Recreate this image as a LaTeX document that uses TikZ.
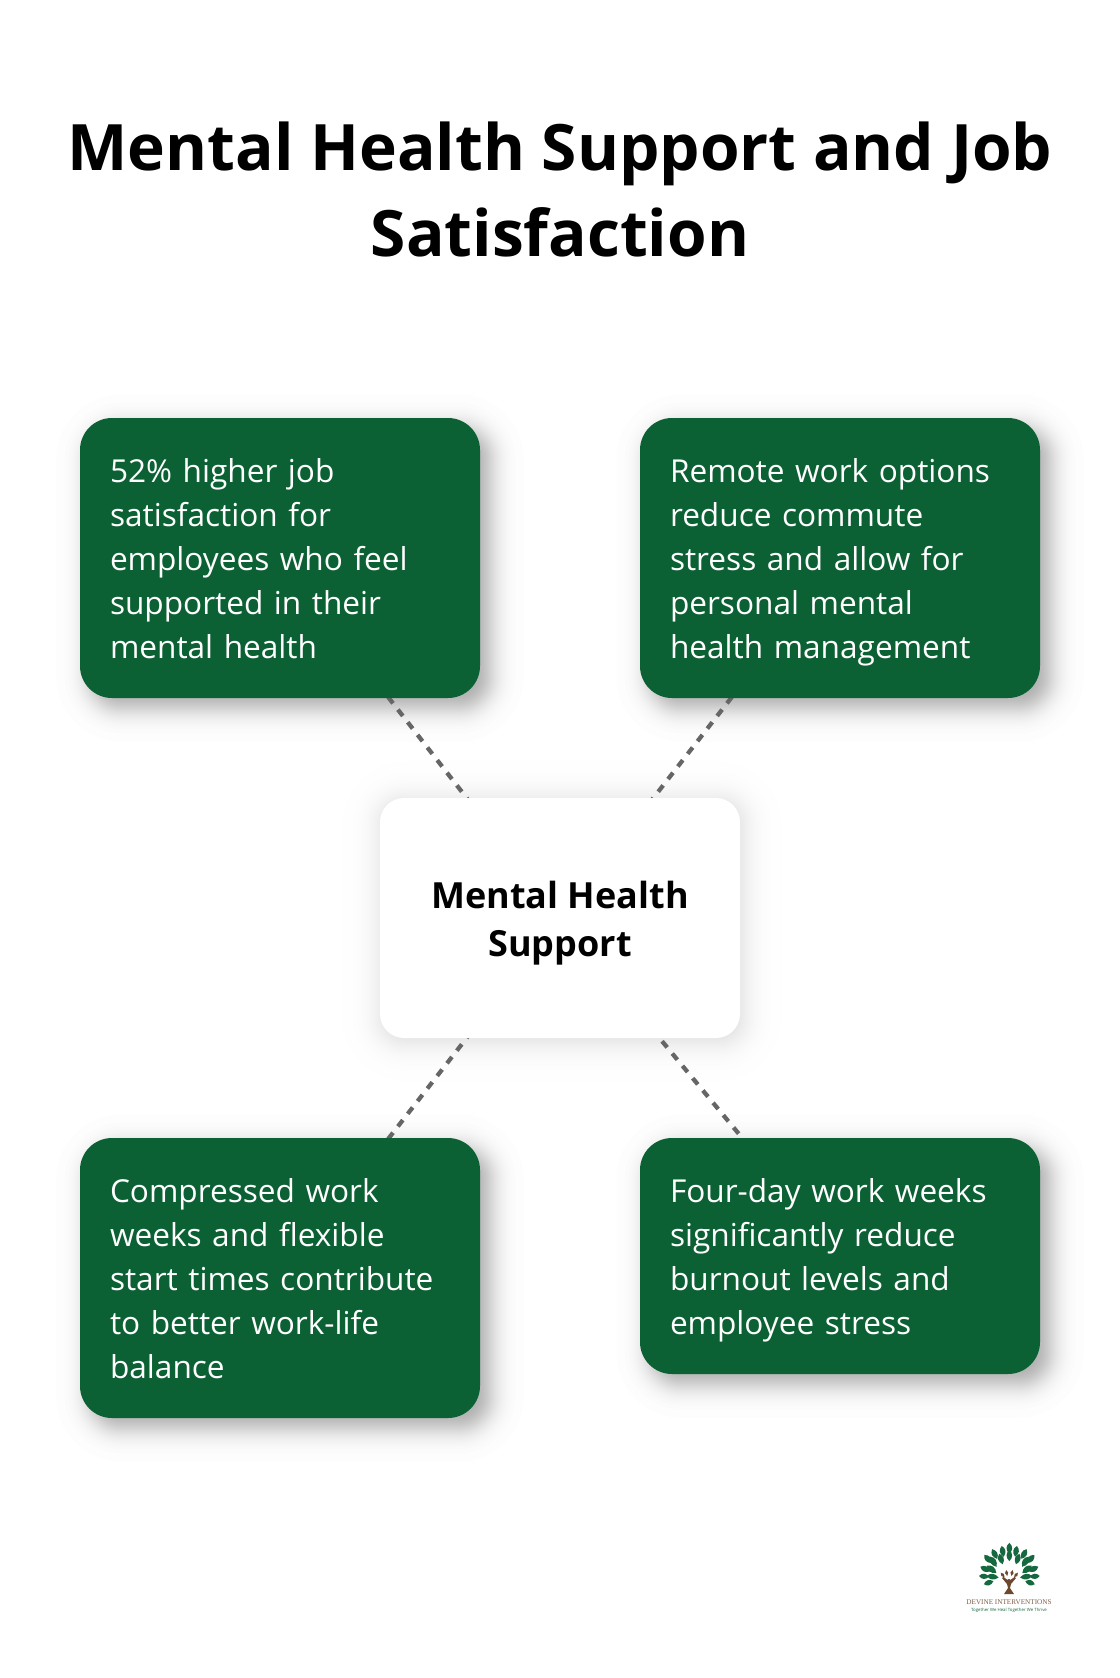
\documentclass[tikz,border=0pt]{standalone}
\usepackage{fontspec}
\setmainfont{Open Sans}
\usetikzlibrary{calc}
\definecolor{boxgreen}{RGB}{12,97,52}
\definecolor{dashgray}{RGB}{102,102,102}
\definecolor{leafgreen}{RGB}{22,104,62}
\definecolor{trunkbrown}{RGB}{110,72,45}
\definecolor{logotext}{RGB}{125,95,75}
\pgfdeclarelayer{shad}
\pgfdeclarelayer{conn}
\pgfsetlayers{shad,conn,main}
\tikzset{
  x=0.75pt, y=-0.75pt,
  infobox/.style={rounded corners=24pt, fill=boxgreen, text=white, minimum width=300pt, inner xsep=22.5pt, inner ysep=0pt, text width=255pt, align=left, font=\fontsize{23.7}{33}\selectfont,
    execute at begin node={\rule{0pt}{25.6pt}}, execute at end node={\rule[-7.4pt]{0pt}{7.4pt}}},
  hubbox/.style={rounded corners=18pt, fill=white, text=black, minimum width=270pt, minimum height=180pt, inner sep=0pt, align=center, font=\fontsize{27}{36}\selectfont\bfseries},
  titletext/.style={align=center, text=black, font=\fontsize{48}{64.5}\selectfont\bfseries, inner sep=0pt},
  link/.style={draw=dashgray, line width=3.2pt, dash pattern=on 6pt off 6pt}
}
% node name, dx, dy, logistic scale (px), base radius (px), steps, opacity per step
\newcommand{\softshadow}[7]{%
  \begin{pgfonlayer}{shad}
  \foreach \k in {1,...,#6}{
    \pgfmathsetmacro{\pp}{(\k-0.5)/#6}
    \pgfmathsetmacro{\ee}{#4*ln(\pp/(1-\pp))}
    \pgfmathsetmacro{\rr}{max(2,#5+\ee)}
    \fill[black, fill opacity=#7, rounded corners=\rr*0.75pt]
      ($(#1.north west)+({#2-\ee},{#3-\ee})$) rectangle ($(#1.south east)+({#2+\ee},{#3+\ee})$);
  }
  \end{pgfonlayer}}
% zoom-unit position in the logo: x, y, angle, half length, half width, colour
\newcommand{\logoleaf}[6]{%
  \fill[#6, shift={({965+(#1)/3},{1535+(#2)/3})}, rotate=#3]
    (-#4,0) .. controls (-#4*0.3,-#5*1.35) and (#4*0.4,-#5*1.35) .. (#4,0)
    .. controls (#4*0.4,#5*1.35) and (-#4*0.3,#5*1.35) .. cycle;}
\begin{document}
\begin{tikzpicture}
\useasboundingbox (0,0) rectangle (1120,1678);
\begin{pgfonlayer}{shad}
\fill[white] (0,0) rectangle (1120,1678);
\end{pgfonlayer}

\node[titletext] (title) at (560,189.5) {Mental Health Support and Job\\Satisfaction};

\node[infobox, minimum height=210pt] (a) at (280,558) {52\% higher job\\satisfaction for\\employees who feel\\supported in their\\mental health};
\node[infobox, minimum height=210pt] (b) at (840,558) {Remote work options\\reduce commute\\stress and allow for\\personal mental\\health management};
\node[hubbox] (hub) at (560,918) {\rule{0pt}{28.5pt}Mental Health\\Support};
\node[infobox, minimum height=210pt] (c) at (280,1278) {Compressed work\\weeks and flexible\\start times contribute\\to better work-life\\balance};
\node[infobox, minimum height=177pt] (d) at (840,1256) {Four-day work weeks\\significantly reduce\\burnout levels and\\employee stress};

\softshadow{a}{10}{10}{7.5}{32}{44}{0.008}
\softshadow{b}{10}{10}{7.5}{32}{44}{0.008}
\softshadow{c}{10}{10}{7.5}{32}{44}{0.008}
\softshadow{d}{10}{10}{7.5}{32}{44}{0.008}
\softshadow{hub}{2}{3}{9}{24}{40}{0.0035}

\begin{pgfonlayer}{conn}
\draw[link] (hub.center) -- (a.center);
\draw[link] (hub.center) -- (b.center);
\draw[link] (hub.center) -- (c.center);
\draw[link] (hub.center) -- (d.center);
\end{pgfonlayer}

% logo
\logoleaf{133}{40}{90}{5.5}{2.8}{leafgreen}
\logoleaf{133}{62}{90}{5.5}{2.8}{leafgreen}
\foreach \dx/\yy/\ang/\ll/\ww in {20/49/80/5.5/2.8, 25/72/72/5.5/2.8, 44/57/62/5.5/2.8, 48/80/58/6/3, 64/72/48/5.5/2.8, 53/103/38/6/3, 72/102/25/5.5/2.8, 50/125/8/6/2.8, 76/124/5/5/2.6, 62/143/-18/5/2.6}{
  \logoleaf{133+\dx}{\yy}{\ang}{\ll}{\ww}{leafgreen}
  \logoleaf{133-\dx}{\yy}{180-\ang}{\ll}{\ww}{leafgreen}
}
\foreach \dx/\yy/\ang in {8/114/80, 20/120/50}{
  \logoleaf{133+\dx}{\yy}{\ang}{3}{1.6}{trunkbrown}
  \logoleaf{133-\dx}{\yy}{180-\ang}{3}{1.6}{trunkbrown}
}
\fill[trunkbrown] (1004,1594) -- (1008,1588) -- (1007,1584) -- (1002,1578) -- (1003.5,1577) -- (1009,1581) -- (1014.5,1577) -- (1016,1578) -- (1011,1584) -- (1010,1588) -- (1014,1594) -- cycle;
\fill[trunkbrown] (1009,1581) circle (2);
\node[inner sep=0pt, text=logotext, font=\fontsize{5.4}{6}\selectfont\fontspec{Liberation Serif}] (logoname) at (1009,1602.5) {DEVINE INTERVENTIONS};
\node[inner sep=0pt, text=leafgreen, font=\fontsize{3.25}{4}\selectfont] (logotag) at (1009,1610) {Together We Heal Together We Thrive};
\end{tikzpicture}
\end{document}
